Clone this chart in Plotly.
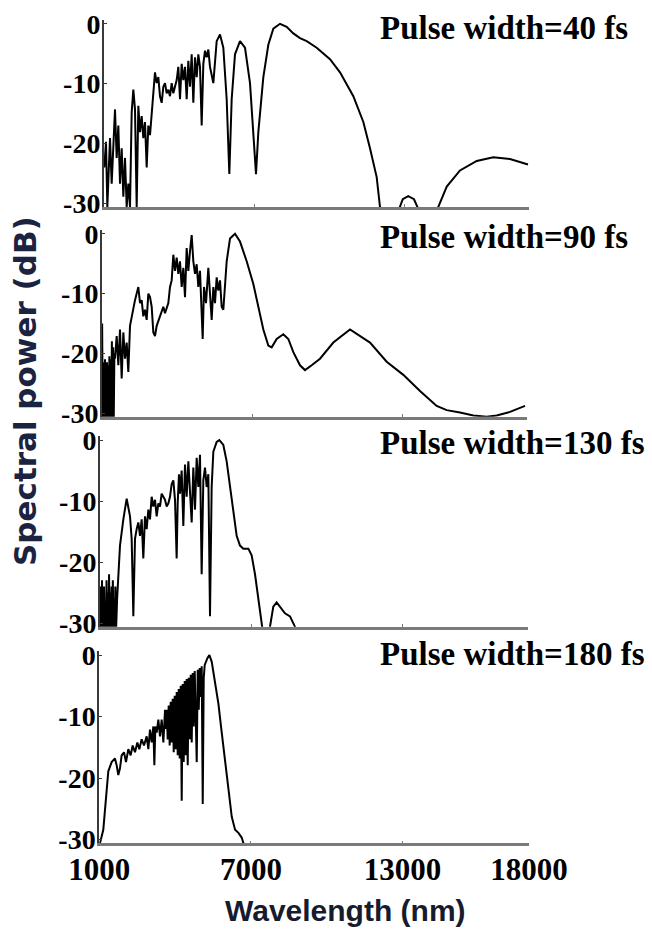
import plotly.graph_objects as go

W, H = 652, 933

# Spectra as (wavelength nm, spectral power dB) pairs; values below the axis floor are clipped
spec_40fs = [
    (1010, -24.0), (1080, -19.7), (1133, -30.6), (1240, -19.1), (1307, -26.7), (1373, -20.8),
    (1440, -14.3), (1507, -22.4), (1573, -17.0), (1640, -26.7), (1707, -20.8), (1773, -28.9),
    (1840, -22.4), (1907, -30.6), (1973, -26.7), (2040, -30.6), (2107, -14.8), (2173, -11.0),
    (2240, -14.3), (2307, -30.6), (2373, -13.7), (2440, -18.1), (2507, -15.4), (2573, -19.1),
    (2640, -16.4), (2707, -24.0), (2773, -17.0), (2840, -18.6), (2907, -15.4), (2973, -12.6),
    (3040, -8.1), (3107, -9.9), (3173, -8.9), (3240, -12.1), (3307, -13.2), (3373, -10.5),
    (3440, -9.9), (3507, -11.6), (3573, -11.0), (3640, -12.1), (3707, -9.9), (3773, -11.6),
    (3840, -10.5), (3907, -9.4), (3973, -7.2), (4040, -12.6), (4107, -6.7), (4173, -9.4),
    (4240, -7.2), (4307, -12.6), (4373, -6.2), (4440, -10.5), (4507, -5.1), (4573, -13.2),
    (4640, -5.6), (4707, -8.9), (4773, -5.1), (4840, -7.2), (4907, -17.0), (4973, -6.7),
    (5040, -4.5), (5107, -5.6), (5173, -4.3), (5240, -7.2), (5373, -9.9), (5440, -6.2),
    (5507, -2.9), (5640, -1.8), (5773, -4.0), (5907, -12.6), (6013, -25.1), (6107, -12.6),
    (6240, -5.1), (6440, -2.9), (6640, -4.0), (6840, -9.9), (6973, -18.1), (7080, -25.1),
    (7173, -18.1), (7373, -8.9), (7573, -3.5), (7773, -0.8), (8040, 0.0), (8307, -0.5),
    (8573, -1.6), (8840, -2.4), (9107, -2.9), (9507, -4.0), (10040, -5.9), (10440, -8.1),
    (10973, -12.1), (11373, -16.4), (11640, -20.8), (11907, -25.6), (12040, -30.6),
    (12250, -34.0), (12650, -34.0), (12800, -31.0), (12950, -29.3), (13170, -28.8),
    (13400, -29.3), (13600, -31.0), (13900, -34.0), (14200, -34.0), (14350, -30.8),
    (14710, -27.2), (15240, -24.5), (15910, -22.9), (16570, -22.3), (17240, -22.6), (17960, -23.5),
]

spec_90fs = [
    (1000, -31.0), (1005, -15.0), (1015, -22.0), (1030, -31.0), (1045, -21.5), (1060, -31.0),
    (1080, -22.5), (1100, -31.0), (1120, -21.0), (1140, -31.0), (1160, -22.0), (1180, -31.0),
    (1200, -21.5), (1220, -31.0), (1245, -22.0), (1270, -31.0), (1295, -20.5), (1320, -31.0),
    (1345, -21.0), (1370, -31.0), (1395, -18.0), (1420, -31.0), (1445, -19.0), (1470, -31.0),
    (1495, -20.0), (1520, -20.9), (1587, -17.1), (1653, -22.0), (1720, -16.0), (1787, -24.2),
    (1853, -16.5), (1920, -20.9), (1987, -18.2), (2053, -23.1), (2120, -15.4), (2253, -12.2),
    (2320, -11.1), (2387, -10.0), (2453, -8.9), (2520, -11.6), (2587, -11.1), (2653, -13.8),
    (2720, -12.7), (2787, -14.4), (2853, -10.0), (2920, -10.6), (2987, -12.2), (3053, -16.5),
    (3120, -17.1), (3187, -15.4), (3320, -13.8), (3453, -12.2), (3520, -13.3), (3587, -12.2),
    (3653, -11.6), (3720, -8.9), (3787, -7.8), (3853, -3.5), (3920, -6.2), (3987, -4.0),
    (4053, -6.7), (4120, -4.6), (4187, -8.9), (4253, -5.7), (4320, -10.6), (4387, -2.4),
    (4453, -6.2), (4520, -2.9), (4587, -0.2), (4653, -4.6), (4720, -6.7), (4787, -5.1),
    (4853, -8.9), (4920, -6.2), (4987, -14.4), (5027, -17.6), (5080, -8.9), (5160, -11.6),
    (5253, -5.7), (5320, -10.0), (5387, -14.4), (5453, -8.9), (5520, -11.6), (5587, -7.3),
    (5653, -9.5), (5720, -7.8), (5787, -12.2), (5853, -12.7), (5920, -8.9), (5987, -4.6),
    (6120, -0.8), (6320, 0.0), (6520, -1.3), (6787, -4.6), (7053, -8.4), (7253, -12.2),
    (7453, -16.0), (7653, -18.7), (7787, -19.0), (7987, -17.6), (8253, -16.8), (8453, -17.6),
    (8653, -19.8), (8920, -22.0), (9120, -22.8), (9387, -22.0), (9720, -20.9), (10253, -18.2),
    (10920, -16.0), (11720, -18.2), (12387, -21.4), (13053, -23.6), (13720, -26.3),
    (14387, -28.8), (14787, -29.5), (15320, -29.9), (15853, -30.4), (16387, -30.6),
    (16787, -30.4), (17320, -29.8), (17920, -28.8),
]

spec_130fs = [
    (1000, -31.0), (1015, -24.0), (1030, -31.0), (1045, -25.0), (1060, -31.0), (1080, -23.0),
    (1100, -31.0), (1120, -26.0), (1140, -31.0), (1160, -24.0), (1185, -31.0), (1210, -27.0),
    (1235, -31.0), (1260, -23.0), (1285, -31.0), (1310, -25.0), (1335, -31.0), (1360, -22.0),
    (1385, -31.0), (1410, -25.0), (1435, -31.0), (1460, -24.0), (1485, -31.0), (1510, -23.0),
    (1535, -31.0), (1560, -26.0), (1585, -31.0), (1610, -24.0), (1640, -31.0), (1680, -26.0),
    (1720, -22.0), (1794, -17.3), (1927, -13.0), (2059, -9.6), (2192, -12.5), (2258, -16.2),
    (2324, -28.9), (2390, -16.2), (2456, -14.6), (2523, -13.5), (2589, -15.7), (2655, -13.0),
    (2721, -19.4), (2787, -12.5), (2854, -14.6), (2920, -11.4), (2986, -13.0), (3052, -9.3),
    (3118, -10.9), (3185, -9.8), (3251, -12.5), (3317, -10.4), (3383, -10.9), (3449, -8.8),
    (3516, -9.3), (3582, -9.8), (3648, -10.9), (3714, -10.4), (3780, -9.3), (3847, -7.2),
    (3913, -6.6), (3979, -9.8), (4045, -19.4), (4085, -10.4), (4138, -5.6), (4178, -8.8),
    (4244, -5.0), (4310, -14.1), (4376, -4.0), (4442, -9.3), (4509, -3.5), (4575, -7.7),
    (4641, -13.5), (4707, -4.5), (4774, -11.4), (4840, -2.9), (4906, -7.7), (4972, -2.4),
    (5038, -22.0), (5104, -6.6), (5171, -4.5), (5237, -7.7), (5303, -5.6), (5369, -28.9),
    (5435, -7.7), (5502, -1.9), (5634, -0.3), (5740, 0.0), (5899, -0.8), (6031, -3.5),
    (6164, -7.7), (6296, -11.9), (6428, -15.7), (6561, -17.3), (6693, -17.8), (6892, -17.8),
    (7024, -18.9), (7157, -22.0), (7289, -26.3), (7421, -30.6), (7553, -34.0), (7752, -30.6),
    (7884, -27.3), (8017, -26.6), (8149, -27.3), (8347, -28.4), (8547, -28.9), (8745, -30.6),
    (8900, -34.0),
]

spec_180fs = [
    (1010, -31.0), (1026, -30.6), (1158, -28.4), (1264, -22.6), (1356, -18.9), (1488, -17.4),
    (1620, -16.8), (1686, -17.9), (1752, -19.5), (1818, -18.4), (1884, -16.3), (1977, -15.8),
    (2056, -17.4), (2148, -15.3), (2241, -16.3), (2320, -14.7), (2412, -15.8), (2505, -14.2),
    (2584, -15.3), (2676, -13.7), (2769, -14.7), (2874, -13.2), (2940, -15.3), (3006, -12.1),
    (3072, -14.2), (3138, -11.6), (3178, -17.9), (3218, -11.6), (3270, -12.6), (3336, -10.5),
    (3402, -13.2), (3468, -10.5), (3534, -14.2), (3600, -8.9), (3633, -12.0), (3666, -8.9),
    (3706, -13.7), (3746, -8.2), (3785, -14.7), (3825, -7.6), (3864, -14.2), (3904, -7.1),
    (3944, -15.8), (3983, -6.6), (4023, -15.3), (4062, -6.0), (4102, -16.3), (4142, -5.5),
    (4181, -16.8), (4221, -5.0), (4260, -23.7), (4300, -4.7), (4340, -17.4), (4379, -4.2),
    (4419, -16.3), (4458, -3.9), (4498, -17.9), (4538, -3.7), (4577, -13.7), (4617, -3.2),
    (4656, -14.2), (4696, -2.9), (4736, -11.6), (4775, -2.6), (4815, -10.0), (4854, -17.4),
    (4894, -2.4), (4934, -8.9), (4973, -2.1), (5013, -6.8), (5052, -1.8), (5092, -24.2),
    (5132, -3.7), (5171, -1.6), (5277, -0.5), (5356, 0.0), (5448, -1.1), (5580, -4.2),
    (5712, -7.9), (5844, -12.6), (5976, -17.4), (6108, -22.1), (6240, -26.3), (6372, -28.4),
    (6504, -28.9), (6636, -29.7), (6702, -30.6), (6760, -33.0),
]

spectra = [spec_40fs, spec_90fs, spec_130fs, spec_180fs]
pulse_labels = ["Pulse width=40 fs", "Pulse width=90 fs", "Pulse width=130 fs", "Pulse width=180 fs"]
x_ticks = [1000, 7000, 13000, 18000]
x_ticktext = ["1000", "7000", "13000", "18000"]
y_ticks = [0, -10, -20, -30]
y_ticktext = ["0", "-10", "-20", "-30"]
y_range = [-30.6, 0.6]

# panel frames in pixels: left, right, top, bottom
frames = [
    (104, 529, 20.2, 207.0),
    (102, 527, 230.2, 416.7),
    (100, 528, 436.4, 626.7),
    (99.3, 529, 651.4, 843.3),
]
label_centers_y = [28, 237, 443, 654]

serif_bold = dict(family="Liberation Serif, Times New Roman, serif", color="black", weight="bold")

fig = go.Figure()
layout = dict(
    width=W, height=H,
    margin=dict(l=0, r=0, t=0, b=0),
    paper_bgcolor="white", plot_bgcolor="white",
    showlegend=False,
    annotations=[],
)

for k, (spec, frame) in enumerate(zip(spectra, frames), start=1):
    left, right, top, bottom = frame
    wl = [p[0] for p in spec]
    db = [p[1] for p in spec]
    fig.add_trace(go.Scatter(
        x=wl, y=db, mode="lines",
        line=dict(color="black", width=2.0),
        xaxis=f"x{k}", yaxis=f"y{k}", hoverinfo="skip",
    ))
    layout[f"xaxis{k}"] = dict(
        domain=[left / W, right / W], range=[1000, 18000], anchor=f"y{k}",
        automargin=False,
        showline=True, linecolor="#7a7a7a", linewidth=2.5,
        tickvals=x_ticks, ticktext=x_ticktext, ticks="inside", ticklen=3, tickcolor="#7a7a7a",
        showticklabels=(k == 4), ticklabelstandoff=-3,
        tickfont=dict(size=31, **serif_bold),
        showgrid=False, zeroline=False,
    )
    layout[f"yaxis{k}"] = dict(
        domain=[1 - bottom / H, 1 - top / H], range=y_range, anchor=f"x{k}",
        automargin=False,
        showline=True, linecolor="#3a3a3a", linewidth=2,
        tickvals=y_ticks, ticktext=y_ticktext, ticks="inside", ticklen=3, tickcolor="#3a3a3a",
        ticklabelstandoff=-4,
        tickfont=dict(size=28, **serif_bold),
        showgrid=False, zeroline=False,
    )

for text, yc in zip(pulse_labels, label_centers_y):
    layout["annotations"].append(dict(
        text=text, xref="paper", yref="paper", x=378 / W, y=1 - yc / H,
        xanchor="left", yanchor="middle", showarrow=False,
        font=dict(size=33, **serif_bold),
    ))

layout["annotations"].append(dict(
    text="Wavelength (nm)", xref="paper", yref="paper", x=345 / W, y=1 - 910 / H,
    xanchor="center", yanchor="middle", showarrow=False,
    font=dict(family="Liberation Sans, Arial, sans-serif", size=30, color="#161b2e", weight="bold"),
))
layout["annotations"].append(dict(
    text="Spectral power (dB)", xref="paper", yref="paper", x=25 / W, y=1 - 391 / H,
    xanchor="center", yanchor="middle", textangle=-90, showarrow=False,
    font=dict(family="DejaVu Sans, sans-serif", size=31, color="#1b2340", weight="bold"),
))

fig.update_layout(**layout)
fig.write_html("out.html")
